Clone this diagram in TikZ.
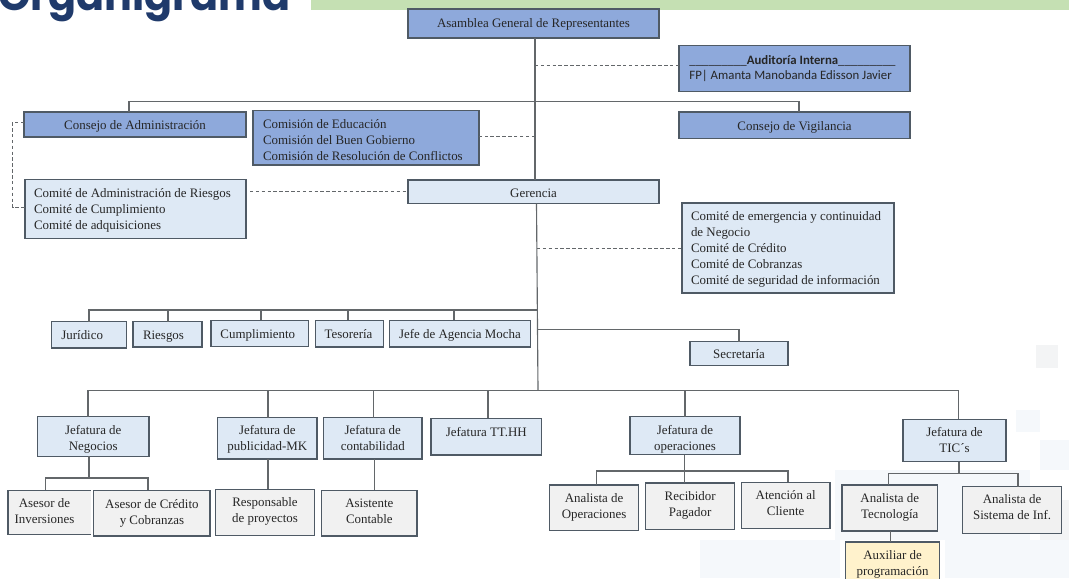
\documentclass[tikz,border=0pt]{standalone}
\usepackage{fontspec}
\setmainfont{Liberation Serif}
\newfontfamily\titlefont{Poppins}
\newfontfamily\calfont{Carlito}
\definecolor{dkblue}{HTML}{8EA9DB}
\definecolor{ltblue}{HTML}{DEE9F5}
\definecolor{ltgray}{HTML}{F1F1F1}
\definecolor{ltyellow}{HTML}{FFF2CC}
\definecolor{edge}{HTML}{4F5A65}
\definecolor{wire}{HTML}{63676A}
\definecolor{navy}{HTML}{1F3A6B}
\definecolor{band}{HTML}{C5E0B3}
\definecolor{faint}{HTML}{F5F8FB}
\definecolor{faintg}{HTML}{F3F4F5}
\newsavebox\tbx
\def\parsexy#1,#2\relax{\def\dxx{#1}\def\dyy{#2}}
\newcommand\bx[9]{%
  \pgfmathsetmacro\W{(#5-#3)*0.75}%
  \pgfmathsetmacro\H{(#6-#4)*0.75}%
  \pgfmathsetmacro\CX{(#5+#3)/2}%
  \pgfmathsetmacro\CY{(#6+#4)/2}%
  \parsexy#8\relax
  \pgfmathsetmacro\DX{\dxx*0.75}%
  \pgfmathsetmacro\DY{(\dyy-2)*0.75}%
  \node[boxbase,#1,minimum width=\W pt,minimum height=\H pt] (#2) at (\CX,\CY) {%
    \sbox\tbx{\begin{tabular}{@{}#7@{}}#9\end{tabular}}%
    \hbox to \W pt{\if l#7\else\hss\kern2\dimexpr\DX pt\relax\fi
      \if l#7\kern\DX pt\fi
      \raisebox{\DY pt}[\ht\tbx][\dp\tbx]{\usebox\tbx}\hss}};%
}
\tikzset{
  boxbase/.style={draw=edge,line width=0.9pt,inner sep=0pt,outer sep=0pt,text=black!85,
    font=\fontsize{9.7}{12}\selectfont},
  dark/.style={fill=dkblue},
  light/.style={fill=ltblue},
  gray box/.style={fill=ltgray},
  yellow box/.style={fill=ltyellow},
  wired/.style={draw=wire,line width=0.85pt},
  dashwire/.style={draw=wire,line width=0.7pt,dash pattern=on 2.6pt off 1.8pt},
}
\begin{document}
\begin{tikzpicture}[x=0.75pt,y=-0.75pt]
\useasboundingbox (0,0) rectangle (1069,578);
\clip (0,0) rectangle (1069,578);
% faint backdrop
\fill[faintg] (1036,345) rectangle (1058,368);
\fill[faint] (1016,410) rectangle (1040,432);
\fill[faint] (1040,440) rectangle (1069,470);
\fill[faintg] (1040,500) rectangle (1069,540);
\fill[faint] (835,470) rectangle (1030,540);
\fill[faint] (700,540) rectangle (840,578);
\fill[faint] (945,540) rectangle (1069,578);
% banner
\fill[band] (311,0) rectangle (1069,10);
\node[anchor=base west,inner sep=0pt,text=navy,font=\titlefont\bfseries\fontsize{31}{31}\selectfont] (title) at (-2,10) {Organigrama};
% boxes
\bx{dark}{asamblea}{408}{9}{659}{38}{c}{0,1}{Asamblea General de Representantes}
\node[boxbase,dark,minimum width=173.25pt,minimum height=34.5pt,font=\calfont\fontsize{9.6}{11.5}\selectfont] (auditoria) at (794.5,68.7) {%
  \kern-1.5pt\begin{tabular}{@{}l@{}}\_\_\_\_\_\_\_\_\_\textbf{Auditoría Interna}\_\_\_\_\_\_\_\_\_\\FP| Amanta Manobanda Edisson Javier\end{tabular}\kern1.5pt};
\bx{dark}{admin}{24}{112}{246}{137}{c}{0,0}{Consejo de Administración}
\bx{dark}{comision}{253}{110.7}{479}{165}{l}{10,-1}{Comisión de Educación\\Comisión del Buen Gobierno\\Comisión de Resolución de Conflictos}
\bx{dark}{vigilancia}{679}{112}{910}{138.7}{c}{0,0}{Consejo de Vigilancia}
\bx{light}{comite}{25}{179.3}{246}{238.7}{l}{9,1}{Comité de Administración de Riesgos\\Comité de Cumplimiento\\Comité de adquisiciones}
\bx{light}{gerencia}{408}{180}{659}{203.5}{c}{0,-1}{Gerencia}
\bx{light}{emerg}{682}{203}{894}{293}{l}{9,1}{Comité de emergencia y continuidad\\de Negocio\\Comité de Crédito\\Comité de Cobranzas\\Comité de seguridad de información}
\bx{light}{juridico}{51.7}{321.7}{126.7}{348}{c}{-7,1}{Jurídico}
\bx{light}{riesgos}{133}{321.7}{202}{347}{c}{-4,0}{Riesgos}
\bx{light}{cumpl}{211}{320.3}{308.6}{346.3}{c}{-2,0}{Cumplimiento}
\bx{light}{tesoreria}{315.4}{320.3}{383.6}{347}{c}{-1,0}{Tesorería}
\bx{light}{jefe}{389.5}{320.3}{530.3}{347}{c}{0,0}{Jefe de Agencia Mocha}
\bx{light}{secretaria}{690}{341.7}{788}{365.7}{c}{0,0}{Secretaría}
\bx{light}{negocios}{37.5}{416.7}{149}{456.3}{c}{0,-1}{Jefatura de\\Negocios}
\bx{light}{publicidad}{217.6}{417.7}{317}{459}{c}{0,1}{Jefatura de\\publicidad-MK}
\bx{light}{contab}{323.5}{417.7}{422}{459}{c}{0,1}{Jefatura de\\contabilidad}
\bx{light}{tthh}{431}{418.3}{541.7}{455}{c}{0,5}{Jefatura TT.HH}
\bx{light}{operaciones}{630}{416.7}{740}{454.7}{c}{0,-1.5}{Jefatura de\\operaciones}
\bx{light}{tics}{903}{419.3}{1006}{461.7}{c}{0,1}{Jefatura de\\TIC´s}
% open-sided box
\bx{gray box,draw=none}{inversiones}{8}{490.3}{91}{534.3}{c}{-5,2}{Asesor de\\Inversiones}
\draw[edge,line width=0.9pt] (inversiones.north east) -- (inversiones.north west) -- (inversiones.south west) -- (inversiones.south east);
\bx{gray box}{credito}{93.8}{490.3}{210}{536}{c}{0,2}{Asesor de Crédito\\y Cobranzas}
\bx{gray box}{respon}{215.5}{489.3}{314.5}{535.3}{c}{0,3}{Responsable\\de proyectos}
\bx{gray box}{asistente}{321.7}{490.3}{417}{536}{c}{0,3}{Asistente\\Contable}
\bx{gray box}{analop}{549.6}{485}{638.6}{530.7}{c}{0,3}{Analista de\\Operaciones}
\bx{gray box}{recib}{645.8}{483}{734.5}{529.3}{c}{0,3}{Recibidor\\Pagador}
\bx{gray box}{atencion}{741.3}{482.3}{830}{528.3}{c}{0,3}{Atención al\\Cliente}
\bx{gray box}{analtec}{842}{485}{937.5}{531}{c}{0,3}{Analista de\\Tecnología}
\bx{gray box}{analsis}{962.6}{486.7}{1061.6}{533.3}{c}{0,4}{Analista de\\Sistema de Inf.}
\bx{yellow box}{auxiliar}{845.5}{542}{939.6}{586}{c}{0,2}{Auxiliar de\\programación}
% junction coordinates
\coordinate (m1) at (535,38);
\coordinate (m2) at (536.5,203.5);
\coordinate (m3) at (538,390.5);
\coordinate (t1) at (535,101.5);
\coordinate (r1) at (538,310);
\coordinate (r2) at (538,329.3);
\coordinate (da) at (535,65.3);
\coordinate (dc) at (535,136);
\coordinate (de) at (537,248);
\coordinate (dl) at (250,191);
\coordinate (b1) at (12.5,122);
\coordinate (b2) at (12.5,207.5);
\coordinate (n1) at (89,478);
\coordinate (o1) at (684.6,471);
\coordinate (s1) at (959,473.3);
% solid connectors
\draw[wired] (m1) -- (m1 |- gerencia.north);
\draw[wired] (m2) -- (m3);
\draw[wired] (129,101.5 |- admin.north) |- (t1) -| (799,112 |- vigilancia.north);
\draw[wired] (juridico.north -| 89,0) |- (r1);
\foreach \n/\x in {riesgos/168,cumpl/261,tesoreria/348,jefe/454}{
  \draw[wired] (\n.north -| \x,0) -- (\x,310);}
\draw[wired] (r2) -| (secretaria.north);
\draw[wired] (negocios.north -| 88,0) |- (m3);
\draw[wired] (m3) -- (958.5,390.5) -- (tics.north -| 958.5,0);
\foreach \n/\x in {publicidad/268,contab/373.5,tthh/488,operaciones/685}{
  \draw[wired] (\n.north -| \x,0) -- (\x,390.5);}
\draw[wired] (negocios.south -| n1) -- (n1);
\draw[wired] (inversiones.north -| 45.5,0) |- (n1) -| (credito.north -| 148,0);
\draw[wired] (respon.north -| 268,0) -- (publicidad.south -| 268,0);
\draw[wired] (asistente.north -| 374.5,0) -- (contab.south -| 374.5,0);
\draw[wired] (operaciones.south -| o1) -- (recib.north -| o1);
\draw[wired] (analop.north -| 596.3,0) |- (o1) -| (atencion.north -| 788,0);
\draw[wired] (tics.south -| s1) -- (s1);
\draw[wired] (analtec.north -| 888.4,0) |- (s1) -| (analsis.north -| 1018,0);
\draw[wired] (analtec.south -| 890.5,0) -- (auxiliar.north -| 890.5,0);
% dashed connectors
\draw[dashwire] (da) -- (da -| auditoria.west);
\draw[dashwire] (dc) -- (dc -| comision.east);
\draw[dashwire] (de) -- (de -| emerg.west);
\draw[dashwire] (dl) -- (dl -| gerencia.west);
\draw[dashwire] (b1 -| admin.west) -- (b1) -- (b2) -- (b2 -| comite.west);
\end{tikzpicture}
\end{document}
